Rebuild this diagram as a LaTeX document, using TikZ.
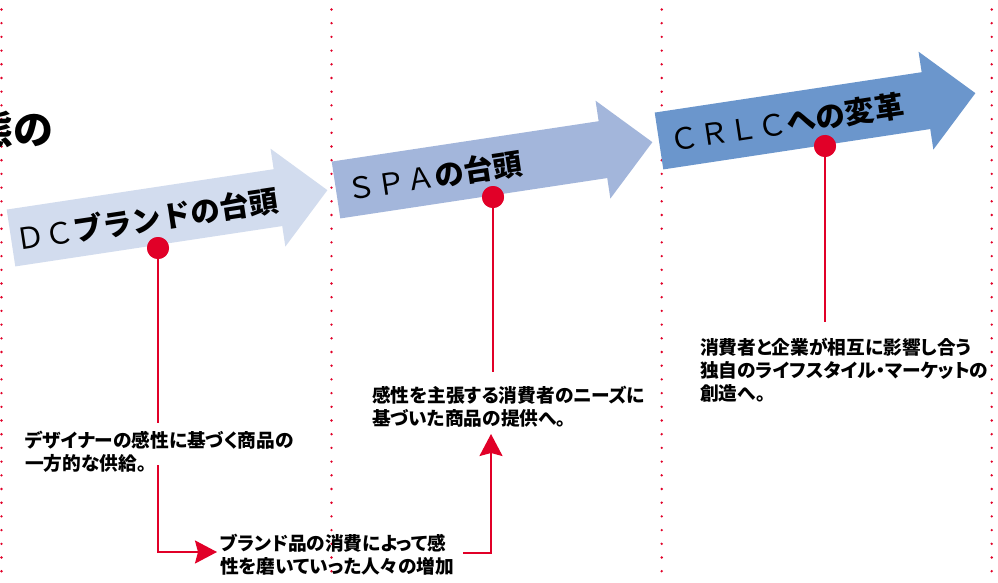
\documentclass[tikz,border=0pt]{standalone}
\usepackage{fontspec}
\newfontfamily\jp{Noto Sans CJK JP}[RawFeature=+palt]
\newfontfamily\jpf{Noto Sans CJK JP}
\usetikzlibrary{arrows.meta}
\definecolor{arA}{HTML}{D2DCEE}
\definecolor{arB}{HTML}{A3B6DB}
\definecolor{arC}{HTML}{6B96CC}
\definecolor{crim}{HTML}{E10028}
\begin{document}
\begin{tikzpicture}[x=1pt,y=-1pt,
  redln/.style={draw=crim, line width=2pt},
  redtip/.style={-{Stealth[length=22pt,width=23pt,inset=3pt]}},
  desc/.style={font=\jp\bfseries\fontsize{18.7}{23}\selectfont, align=left, anchor=north west, inner sep=0pt},
  artext/.style={font=\jpf\fontsize{29.5}{31}\selectfont, anchor=west, inner sep=0pt, transform shape},
  pin/.style={circle, fill=crim, minimum size=22pt, inner sep=0pt}
]
\useasboundingbox (0,0) rectangle (998,583);
\clip (0,0) rectangle (998,583);
\fill[white] (0,0) rectangle (998,583);

% dotted separators
\foreach \x in {1.5,331.5,661.7,991.7}{
  \foreach \i in {0,...,42}{ \fill[crim] (\x,9.5+13.7*\i) circle[radius=1.3pt]; }
}

% title fragment
\node[font=\jpf\bfseries\fontsize{40}{42}\selectfont, anchor=east, inner sep=0pt] (title) at (54,129) {態の};

% big arrows
\begin{scope}[shift={(11,238)}, rotate=8.6]
  \fill[arA] (0,-28.75) -- (270,-28.75) -- (270,-49.5) -- (320,0) -- (270,49.5) -- (270,28.75) -- (0,28.75) -- cycle;
  \node[artext] (a1) at (4,2) {ＤＣ{\bfseries ブランドの台頭}};
\end{scope}
\begin{scope}[shift={(336,190)}, rotate=8.6]
  \fill[arB] (0,-28.75) -- (270,-28.75) -- (270,-49.5) -- (320,0) -- (270,49.5) -- (270,28.75) -- (0,28.75) -- cycle;
  \node[artext] (a2) at (11,1) {ＳＰＡ{\bfseries の台頭}};
\end{scope}
\begin{scope}[shift={(659,141)}, rotate=8.6]
  \fill[arC] (0,-28.75) -- (270,-28.75) -- (270,-49.5) -- (320,0) -- (270,49.5) -- (270,28.75) -- (0,28.75) -- cycle;
  \node[artext] (a3) at (11,1) {ＣＲＬＣ{\bfseries への変革}};
\end{scope}

% description texts
\node[desc] (d1) at (25,431) {デザイナーの感性に基づく商品の\\一方的な供給。};
\node[desc] (d2) at (220,534) {ブランド品の消費によって感\\性を磨いていった人々の増加};
\node[desc] (d3) at (372,386) {感性を主張する消費者のニーズに\\基づいた商品の提供へ。};
\node[desc] (d4) at (700,338) {消費者と企業が相互に影響し合う\\独自のライフスタイル・マーケットの\\創造へ。};

% pins
\node[pin] (p1) at (158,248) {};
\node[pin] (p2) at (493,197) {};
\node[pin] (p3) at (825,146) {};

% connector coordinates
\coordinate (l1a) at (158,423);
\coordinate (l1b) at (158,465);
\coordinate (l1c) at (217,552);
\coordinate (l2a) at (463,553);
\coordinate (l2b) at (491,434);
\coordinate (l3a) at (493,372);
\coordinate (l4a) at (825,322);

\draw[redln] (p1.center) -- (l1a);
\draw[redln] (p2.center) -- (l3a);
\draw[redln] (p3.center) -- (l4a);
\draw[redln,redtip] (l1b) |- (l1c);
\draw[redln,redtip] (l2a) -| (l2b);

% pins on top of the lines
\fill[crim] (p1) circle[radius=11pt];
\fill[crim] (p2) circle[radius=11pt];
\fill[crim] (p3) circle[radius=11pt];
\end{tikzpicture}
\end{document}
